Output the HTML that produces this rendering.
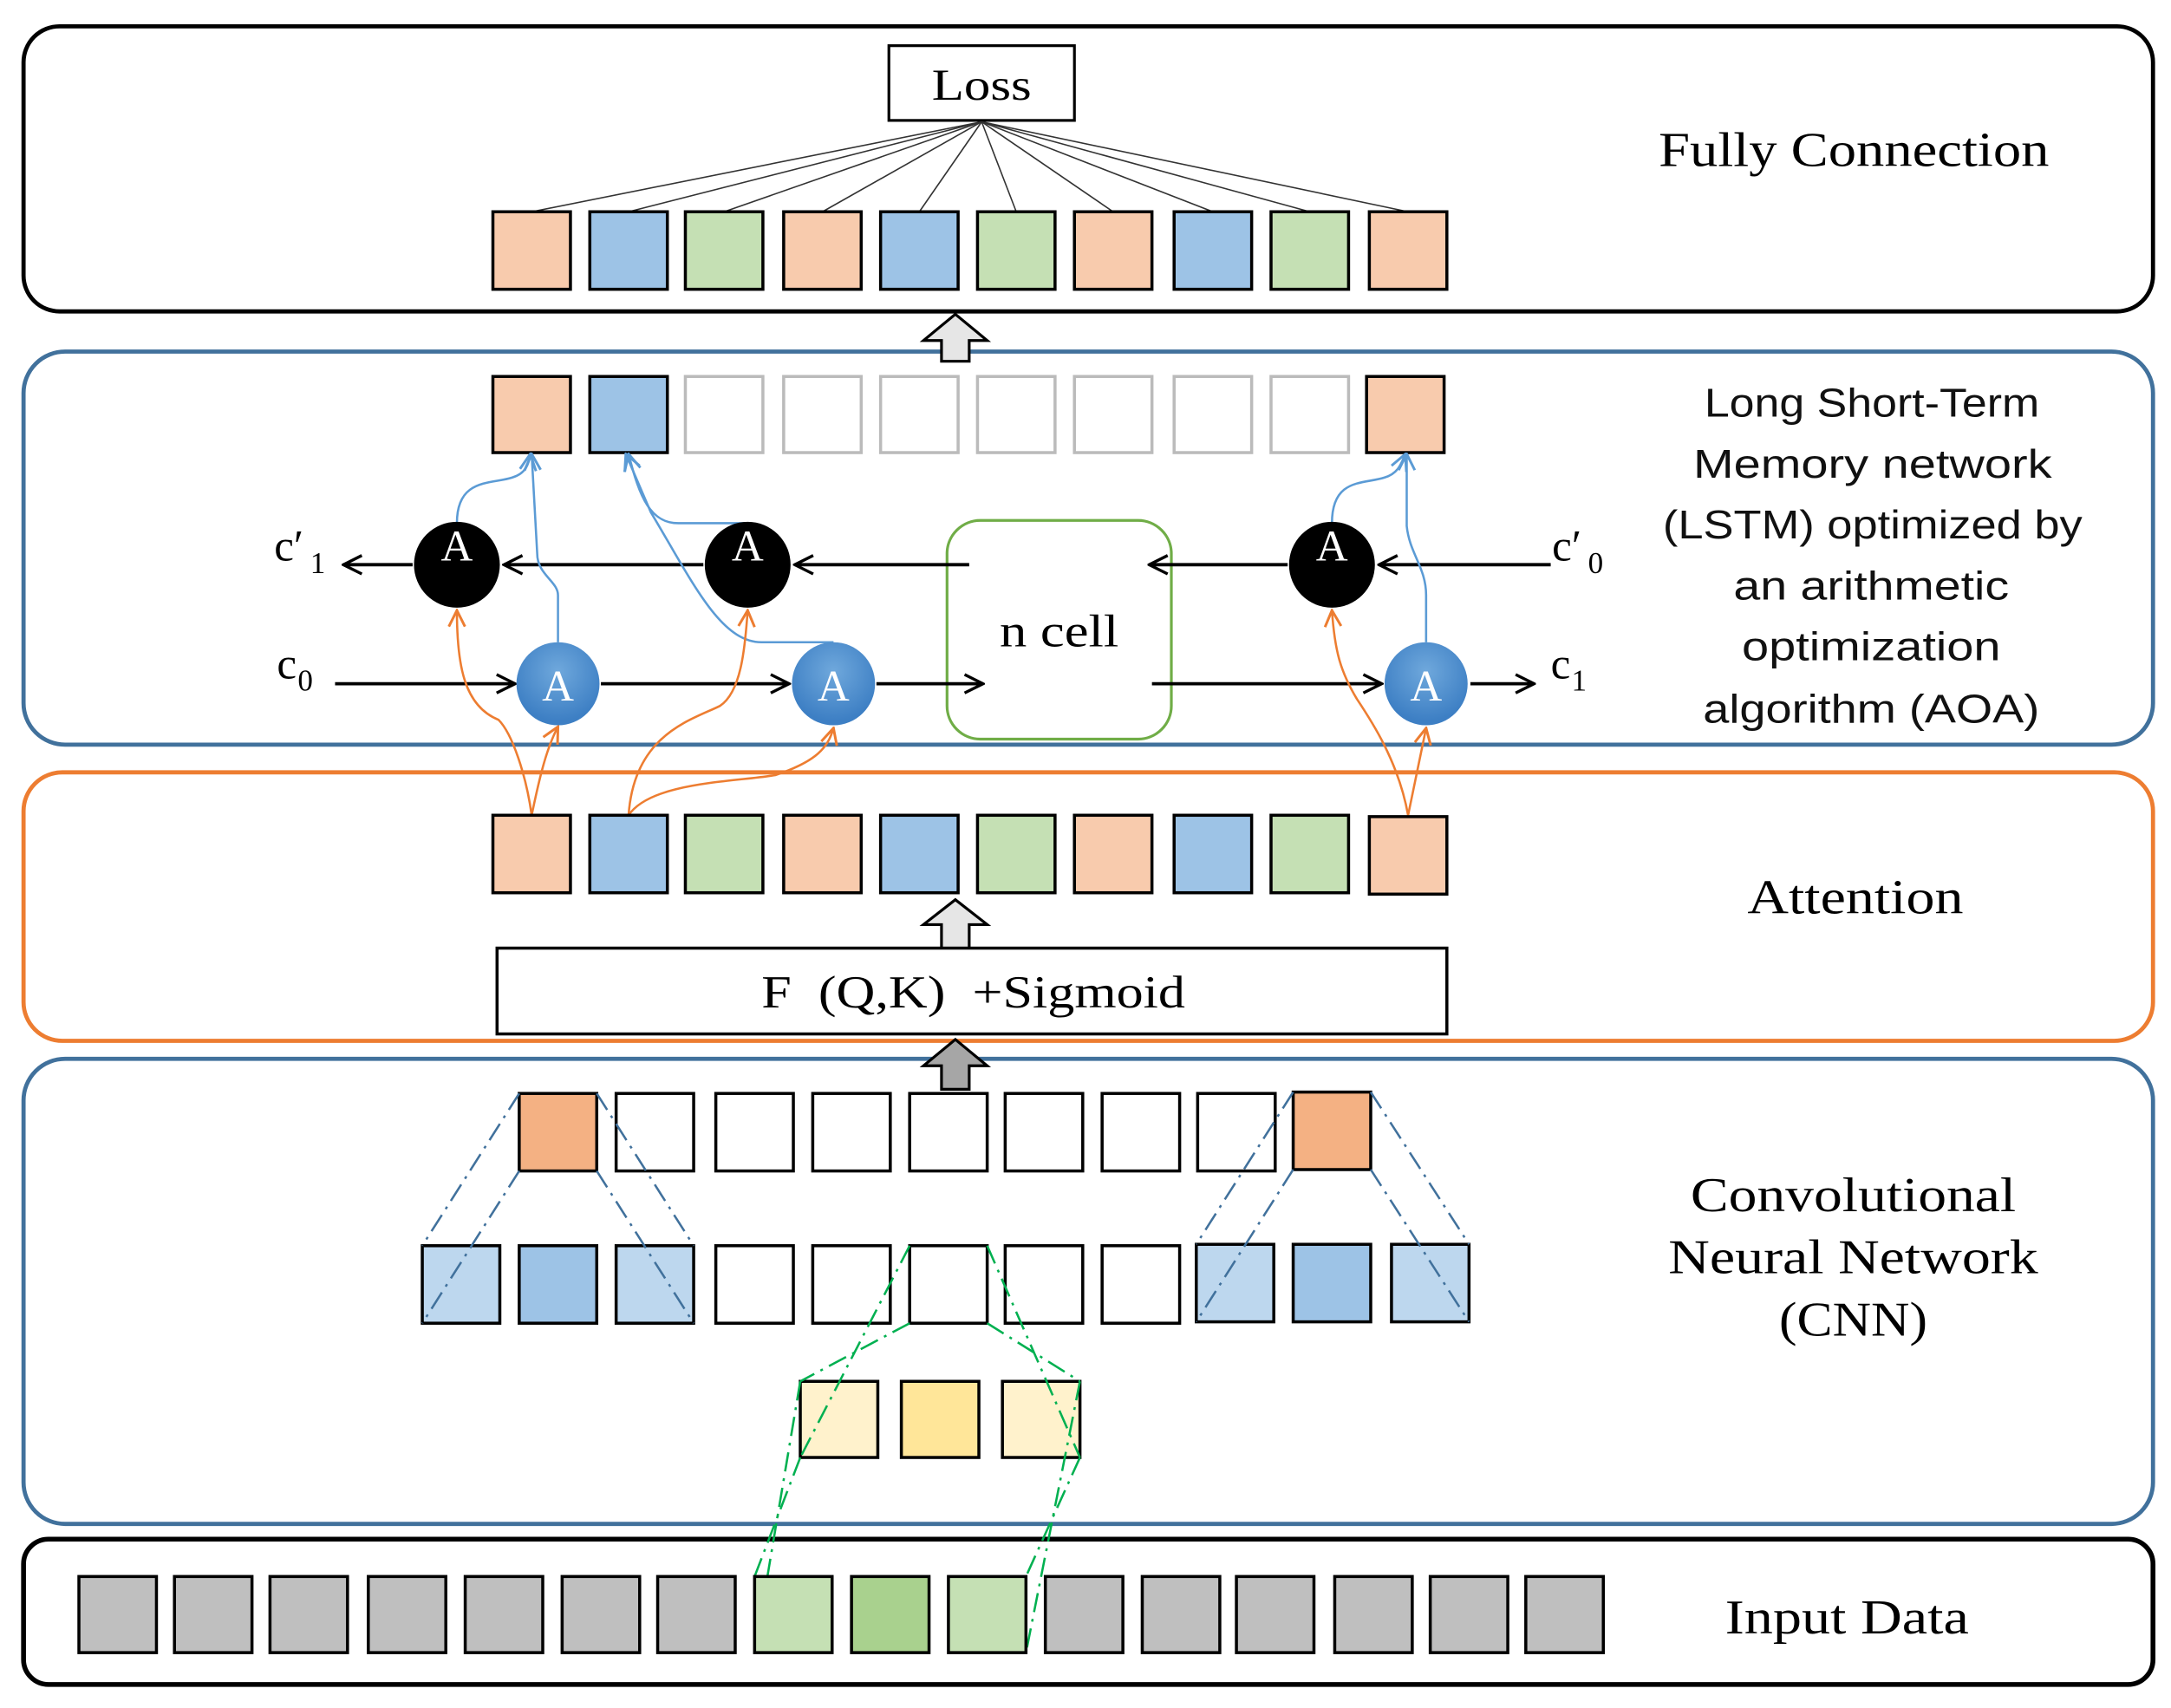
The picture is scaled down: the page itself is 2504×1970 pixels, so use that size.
<!DOCTYPE html>
<html><head><meta charset="utf-8"><style>
html,body{margin:0;padding:0;background:#fff;}
svg{display:block;}
.serif{font-family:"Liberation Serif",serif;}
.sans{font-family:"Liberation Sans",sans-serif;}
</style></head><body>
<svg width="2504" height="1970" viewBox="0 0 1568 1234" preserveAspectRatio="none" xmlns="http://www.w3.org/2000/svg">
<defs>
<marker id="ak" viewBox="0 0 12 12" refX="11" refY="6" markerWidth="16" markerHeight="16" markerUnits="userSpaceOnUse" orient="auto"><path d="M1,1 L11,6 L1,11" fill="none" stroke="#000" stroke-width="1.6"/></marker>
<marker id="ao" viewBox="0 0 12 12" refX="11" refY="6" markerWidth="14" markerHeight="14" markerUnits="userSpaceOnUse" orient="auto"><path d="M1,1 L11,6 L1,11" fill="none" stroke="#ED7D31" stroke-width="1.6"/></marker>
<marker id="ab" viewBox="0 0 12 12" refX="11" refY="6" markerWidth="14" markerHeight="14" markerUnits="userSpaceOnUse" orient="auto"><path d="M1,1 L11,6 L1,11" fill="none" stroke="#5B9BD5" stroke-width="1.6"/></marker>
<radialGradient id="gb" cx="50%" cy="35%" r="60%"><stop offset="0" stop-color="#6FA8DC"/><stop offset="1" stop-color="#3D7FC4"/></radialGradient>
</defs>

<!-- Panels -->
<rect x="17" y="19" width="1538" height="206" rx="26" fill="none" stroke="#000" stroke-width="3"/>
<rect x="17" y="254" width="1538" height="284" rx="30" fill="none" stroke="#41719C" stroke-width="3"/>
<rect x="17" y="558" width="1538" height="194" rx="28" fill="none" stroke="#ED7D31" stroke-width="3"/>
<rect x="17" y="765" width="1538" height="336" rx="30" fill="none" stroke="#41719C" stroke-width="3"/>
<rect x="17" y="1112" width="1538" height="105" rx="18" fill="none" stroke="#000" stroke-width="3.5"/>

<!-- FC -->
<rect x="642" y="33" width="134" height="54" fill="#fff" stroke="#000" stroke-width="2"/>
<text x="673" y="72" class="serif" font-size="32" textLength="72" lengthAdjust="spacingAndGlyphs">Loss</text>
<g stroke="#333" stroke-width="1">
<line x1="709" y1="88" x2="384" y2="153"/><line x1="709" y1="88" x2="454" y2="153"/><line x1="709" y1="88" x2="523" y2="153"/><line x1="709" y1="88" x2="594" y2="153"/><line x1="709" y1="88" x2="664" y2="153"/><line x1="709" y1="88" x2="734" y2="153"/><line x1="709" y1="88" x2="804" y2="153"/><line x1="709" y1="88" x2="876" y2="153"/><line x1="709" y1="88" x2="946" y2="153"/><line x1="709" y1="88" x2="1017" y2="153"/>
</g>
<g stroke="#000" stroke-width="2.2">
<rect x="356" y="153" width="56" height="56" fill="#F8CBAD"/><rect x="426" y="153" width="56" height="56" fill="#9DC3E6"/><rect x="495" y="153" width="56" height="56" fill="#C5E0B4"/><rect x="566" y="153" width="56" height="56" fill="#F8CBAD"/><rect x="636" y="153" width="56" height="56" fill="#9DC3E6"/><rect x="706" y="153" width="56" height="56" fill="#C5E0B4"/><rect x="776" y="153" width="56" height="56" fill="#F8CBAD"/><rect x="848" y="153" width="56" height="56" fill="#9DC3E6"/><rect x="918" y="153" width="56" height="56" fill="#C5E0B4"/><rect x="989" y="153" width="56" height="56" fill="#F8CBAD"/>
</g>
<text x="1198" y="120" class="serif" font-size="35" textLength="282" lengthAdjust="spacingAndGlyphs">Fully Connection</text>

<path d="M680,261 L680,246 L667,246 L690,227 L713,246 L700,246 L700,261 Z" fill="#e6e6e6" stroke="#000" stroke-width="2"/>

<!-- LSTM top row -->
<g stroke-width="2.2">
<rect x="356" y="272" width="56" height="55" fill="#F8CBAD" stroke="#000"/><rect x="426" y="272" width="56" height="55" fill="#9DC3E6" stroke="#000"/>
<g fill="#fff" stroke="#bbb"><rect x="495" y="272" width="56" height="55"/><rect x="566" y="272" width="56" height="55"/><rect x="636" y="272" width="56" height="55"/><rect x="706" y="272" width="56" height="55"/><rect x="776" y="272" width="56" height="55"/><rect x="848" y="272" width="56" height="55"/><rect x="918" y="272" width="56" height="55"/></g>
<rect x="987" y="272" width="56" height="55" fill="#F8CBAD" stroke="#000"/>
</g>
<g class="sans" font-size="29" fill="#111" lengthAdjust="spacingAndGlyphs">
<text x="1231" y="301" textLength="242" lengthAdjust="spacingAndGlyphs">Long Short-Term</text>
<text x="1223" y="345" textLength="259" lengthAdjust="spacingAndGlyphs">Memory network</text>
<text x="1201" y="389" textLength="303" lengthAdjust="spacingAndGlyphs">(LSTM) optimized by</text>
<text x="1252" y="433" textLength="199" lengthAdjust="spacingAndGlyphs">an arithmetic</text>
<text x="1258" y="477" textLength="187" lengthAdjust="spacingAndGlyphs">optimization</text>
<text x="1230" y="522" textLength="243" lengthAdjust="spacingAndGlyphs">algorithm (AOA)</text>
</g>

<!-- n cell -->
<rect x="684" y="376" width="162" height="158" rx="24" fill="#fff" stroke="#70AD47" stroke-width="2"/>
<text x="722" y="467" class="serif" font-size="33" textLength="86" lengthAdjust="spacingAndGlyphs">n cell</text>

<!-- black arrows -->
<g stroke="#000" stroke-width="2.4" fill="none">
<line x1="1120" y1="408" x2="996" y2="408" marker-end="url(#ak)"/>
<line x1="930" y1="408" x2="830" y2="408" marker-end="url(#ak)"/>
<line x1="700" y1="408" x2="574" y2="408" marker-end="url(#ak)"/>
<line x1="508" y1="408" x2="364" y2="408" marker-end="url(#ak)"/>
<line x1="298" y1="408" x2="248" y2="408" marker-end="url(#ak)"/>
<line x1="242" y1="494" x2="372" y2="494" marker-end="url(#ak)"/>
<line x1="434" y1="494" x2="570" y2="494" marker-end="url(#ak)"/>
<line x1="633" y1="494" x2="710" y2="494" marker-end="url(#ak)"/>
<line x1="832" y1="494" x2="998" y2="494" marker-end="url(#ak)"/>
<line x1="1062" y1="494" x2="1108" y2="494" marker-end="url(#ak)"/>
</g>
<text class="serif" font-size="32"><tspan x="198" y="405">c′</tspan><tspan x="224" y="414" font-size="22">1</tspan></text>
<text class="serif" font-size="32"><tspan x="200" y="490">c</tspan><tspan x="215" y="499" font-size="22">0</tspan></text>
<text class="serif" font-size="32"><tspan x="1121" y="405">c′</tspan><tspan x="1147" y="414" font-size="22">0</tspan></text>
<text class="serif" font-size="32"><tspan x="1120" y="490">c</tspan><tspan x="1135" y="499" font-size="22">1</tspan></text>

<!-- blue curves -->
<g stroke="#5B9BD5" stroke-width="1.6" fill="none">
<path d="M330,378 C330,345 355,350 370,345 C380,342 382,335 383,328" marker-end="url(#ab)"/>
<path d="M403,464 L403,430 C403,420 388,415 388,400 L384,328" marker-end="url(#ab)"/>
<path d="M540,378 L490,378 C470,378 462,360 454,328" marker-end="url(#ab)"/>
<path d="M602,464 L550,464 C520,464 500,420 470,370 L452,328" marker-end="url(#ab)"/>
<path d="M962,378 C962,345 985,350 1000,345 C1010,342 1012,335 1015,328" marker-end="url(#ab)"/>
<path d="M1030,464 L1030,430 C1030,410 1018,400 1016,380 L1016,328" marker-end="url(#ab)"/>
</g>

<!-- orange curves -->
<g stroke="#ED7D31" stroke-width="1.6" fill="none">
<path d="M384,589 C380,560 370,530 360,520 C335,510 330,480 330,441" marker-end="url(#ao)"/>
<path d="M384,589 C390,560 395,540 403,525" marker-end="url(#ao)"/>
<path d="M454,589 C458,530 500,520 520,510 C535,500 538,470 540,441" marker-end="url(#ao)"/>
<path d="M454,589 C470,565 530,565 560,560 C590,550 598,540 602,526" marker-end="url(#ao)"/>
<path d="M1017,589 C1010,550 990,520 980,505 C968,485 964,470 962,441" marker-end="url(#ao)"/>
<path d="M1017,589 C1022,565 1026,545 1030,526" marker-end="url(#ao)"/>
</g>

<!-- A circles -->
<g>
<circle cx="330" cy="408" r="31" fill="#000"/><circle cx="540" cy="408" r="31" fill="#000"/><circle cx="962" cy="408" r="31" fill="#000"/>
<circle cx="403" cy="494" r="30" fill="url(#gb)"/><circle cx="602" cy="494" r="30" fill="url(#gb)"/><circle cx="1030" cy="494" r="30" fill="url(#gb)"/>
</g>
<g class="serif" font-size="32" fill="#fff" text-anchor="middle">
<text x="330" y="405">A</text><text x="540" y="405">A</text><text x="962" y="405">A</text>
<text x="403" y="506">A</text><text x="602" y="506">A</text><text x="1030" y="506">A</text>
</g>

<!-- Attention -->
<g stroke="#000" stroke-width="2.2">
<rect x="356" y="589" width="56" height="56" fill="#F8CBAD"/><rect x="426" y="589" width="56" height="56" fill="#9DC3E6"/><rect x="495" y="589" width="56" height="56" fill="#C5E0B4"/><rect x="566" y="589" width="56" height="56" fill="#F8CBAD"/><rect x="636" y="589" width="56" height="56" fill="#9DC3E6"/><rect x="706" y="589" width="56" height="56" fill="#C5E0B4"/><rect x="776" y="589" width="56" height="56" fill="#F8CBAD"/><rect x="848" y="589" width="56" height="56" fill="#9DC3E6"/><rect x="918" y="589" width="56" height="56" fill="#C5E0B4"/><rect x="989" y="590" width="56" height="56" fill="#F8CBAD"/>
</g>
<path d="M680,685 L680,668 L667,668 L690,650 L713,668 L700,668 L700,685 Z" fill="#e6e6e6" stroke="#000" stroke-width="2"/>
<rect x="359" y="685" width="686" height="62" fill="#fff" stroke="#000" stroke-width="2.2"/>
<text x="550" y="728" class="serif" font-size="33" xml:space="preserve" textLength="306" lengthAdjust="spacingAndGlyphs">F  (Q,K)  +Sigmoid</text>
<text x="1262" y="660" class="serif" font-size="35" textLength="156" lengthAdjust="spacingAndGlyphs">Attention</text>

<path d="M680,787 L680,770 L667,770 L690,751 L713,770 L700,770 L700,787 Z" fill="#a6a6a6" stroke="#000" stroke-width="2"/>

<!-- CNN -->
<g stroke="#000" stroke-width="2.2">
<rect x="375" y="790" width="56" height="56" fill="#F4B183"/>
<g fill="#fff"><rect x="445" y="790" width="56" height="56"/><rect x="517" y="790" width="56" height="56"/><rect x="587" y="790" width="56" height="56"/><rect x="657" y="790" width="56" height="56"/><rect x="726" y="790" width="56" height="56"/><rect x="796" y="790" width="56" height="56"/><rect x="865" y="790" width="56" height="56"/></g>
<rect x="934" y="789" width="56" height="56" fill="#F4B183"/>
<rect x="305" y="900" width="56" height="56" fill="#BDD7EE"/><rect x="375" y="900" width="56" height="56" fill="#9DC3E6"/><rect x="445" y="900" width="56" height="56" fill="#BDD7EE"/>
<g fill="#fff"><rect x="517" y="900" width="56" height="56"/><rect x="587" y="900" width="56" height="56"/><rect x="657" y="900" width="56" height="56"/><rect x="726" y="900" width="56" height="56"/><rect x="796" y="900" width="56" height="56"/></g>
<rect x="864" y="899" width="56" height="56" fill="#BDD7EE"/><rect x="934" y="899" width="56" height="56" fill="#9DC3E6"/><rect x="1005" y="899" width="56" height="56" fill="#BDD7EE"/>
<rect x="578" y="998" width="56" height="55" fill="#FFF2CC"/><rect x="651" y="998" width="56" height="55" fill="#FFE699"/><rect x="724" y="998" width="56" height="55" fill="#FFF2CC"/>
</g>
<g stroke="#41719C" stroke-width="1.6" fill="none" stroke-dasharray="14,5,2,5">
<line x1="375" y1="790" x2="305" y2="900"/><line x1="375" y1="846" x2="305" y2="956"/>
<line x1="431" y1="790" x2="501" y2="900"/><line x1="431" y1="846" x2="501" y2="956"/>
<line x1="934" y1="789" x2="864" y2="899"/><line x1="934" y1="845" x2="864" y2="955"/>
<line x1="990" y1="789" x2="1061" y2="899"/><line x1="990" y1="845" x2="1061" y2="955"/>
</g>
<g stroke="#00B050" stroke-width="1.6" fill="none" stroke-dasharray="14,5,2,5">
<line x1="657" y1="900" x2="578" y2="1053"/><line x1="713" y1="900" x2="780" y2="1053"/>
<line x1="657" y1="956" x2="578" y2="998"/><line x1="713" y1="956" x2="780" y2="998"/>
<line x1="578" y1="998" x2="545" y2="1194"/><line x1="578" y1="1053" x2="545" y2="1139"/>
<line x1="780" y1="998" x2="741" y2="1194"/><line x1="780" y1="1053" x2="741" y2="1139"/>
</g>
<g class="serif" font-size="35">
<text x="1221" y="875" textLength="235" lengthAdjust="spacingAndGlyphs">Convolutional</text>
<text x="1205" y="920" textLength="267" lengthAdjust="spacingAndGlyphs">Neural Network</text>
<text x="1285" y="965" textLength="107" lengthAdjust="spacingAndGlyphs">(CNN)</text>
</g>

<!-- Input -->
<g stroke="#000" stroke-width="2.2" fill="#BFBFBF">
<rect x="57" y="1139" width="56" height="55"/><rect x="126" y="1139" width="56" height="55"/><rect x="195" y="1139" width="56" height="55"/><rect x="266" y="1139" width="56" height="55"/><rect x="336" y="1139" width="56" height="55"/><rect x="406" y="1139" width="56" height="55"/><rect x="475" y="1139" width="56" height="55"/>
<rect x="545" y="1139" width="56" height="55" fill="#C5E0B4"/><rect x="615" y="1139" width="56" height="55" fill="#A9D18E"/><rect x="685" y="1139" width="56" height="55" fill="#C5E0B4"/>
<rect x="755" y="1139" width="56" height="55"/><rect x="825" y="1139" width="56" height="55"/><rect x="893" y="1139" width="56" height="55"/><rect x="964" y="1139" width="56" height="55"/><rect x="1033" y="1139" width="56" height="55"/><rect x="1102" y="1139" width="56" height="55"/>
</g>
<text x="1246" y="1180" class="serif" font-size="35" textLength="176" lengthAdjust="spacingAndGlyphs">Input Data</text>
</svg>
</body></html>
